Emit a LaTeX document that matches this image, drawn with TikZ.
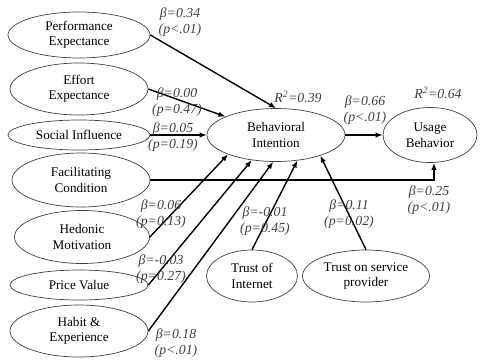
\documentclass[tikz,border=0pt]{standalone}
\usepackage{fontspec}
\setmainfont{Liberation Serif}
\usetikzlibrary{shapes.geometric,arrows.meta}

\begin{document}
\begin{tikzpicture}[x=10pt, y=-10pt,
    construct/.style={ellipse, draw=black!75, line width=0.7pt, inner sep=0pt, align=center, font=\fontsize{13.2}{15.5}\selectfont},
    pathline/.style={line width=1.4pt, -{Latex[length=7pt,width=5.5pt]}},
    coef/.style={font=\fontsize{13.8}{16}\selectfont\itshape, text=black!75, align=center, inner sep=0pt}]
    \useasboundingbox (0,0) rectangle (48,36);

    % 構成概念
    \node[construct, minimum width=142pt, minimum height=46pt] (PE) at (7.9, 3.5) {Performance\\Expectance};
    \node[construct, minimum width=138pt, minimum height=52pt] (EE) at (7.9, 8.9) {Effort\\Expectance};
    \node[construct, minimum width=142pt, minimum height=30pt] (SI) at (7.9, 13.5) {Social Influence};
    \node[construct, minimum width=138pt, minimum height=54pt] (FC) at (8.1, 18.0) {Facilitating\\Condition};
    \node[construct, minimum width=135pt, minimum height=53pt] (HM) at (8.2, 23.7) {Hedonic\\Motivation};
    \node[construct, minimum width=138pt, minimum height=30pt] (PV) at (7.9, 28.5) {Price Value};
    \node[construct, minimum width=138pt, minimum height=52pt] (HE) at (7.9, 33.1) {Habit \&\\Experience};
    \node[construct, minimum width=138pt, minimum height=53pt] (BI) at (27.6, 13.5) {Behavioral\\Intention};
    \node[construct, minimum width=94pt, minimum height=55pt] (UB) at (43.0, 13.5) {Usage\\Behavior};
    \node[construct, minimum width=91pt, minimum height=52pt] (TI) at (25.2, 27.6) {Trust of\\Internet};
    \node[construct, minimum width=127pt, minimum height=52pt] (TSP) at (36.6, 27.6) {Trust on service\\provider};

    % パス
    \draw[pathline] (PE.east) -- (BI.north);
    \draw[pathline] (EE.east) -- (BI.160);
    \draw[pathline] (SI.east) -- (BI.west);
    \draw[pathline] (FC.east) -| ([xshift=4pt]UB.south);
    \draw[pathline] (HM.east) -- (BI.202);
    \draw[pathline] (PV.east) -- (BI.226);
    \draw[pathline] (HE.east) -- (BI.264);
    \draw[pathline] (TI.north) -- (BI.310);
    \draw[pathline] (TSP.north) -- (BI.335);
    \draw[pathline] (BI.east) -- (UB.west);

    % 係数
    \node[coef] (cPE) at (18.0, 2.2) {β=0.34\\(p<.01)};
    \node[coef] (cEE) at (17.7, 10.2) {β=0.00\\(p=0.47)};
    \node[coef] (cSI) at (17.3, 13.75) {β=0.05\\(p=0.19)};
    \node[coef] (cHM) at (16.1, 21.45) {β=0.06\\(p=0.13)};
    \node[coef] (cPV) at (16.1, 26.95) {β=-0.03\\(p=0.27)};
    \node[coef] (cHE) at (17.6, 34.35) {β=0.18\\(p<.01)};
    \node[coef] (cTI) at (26.5, 22.15) {β=-0.01\\(p=0.45)};
    \node[coef] (cTSP) at (34.9, 21.45) {β=0.11\\(p=0.02)};
    \node[coef] (cBI) at (36.5, 11.0) {β=0.66\\(p<.01)};
    \node[coef] (cFC) at (42.9, 20.0) {β=0.25\\(p<.01)};
    \node[coef] (rBI) at (29.8, 9.7) {R\textsuperscript{2}=0.39};
    \node[coef] (rUB) at (43.8, 9.3) {R\textsuperscript{2}=0.64};
  \end{tikzpicture}
\end{document}
